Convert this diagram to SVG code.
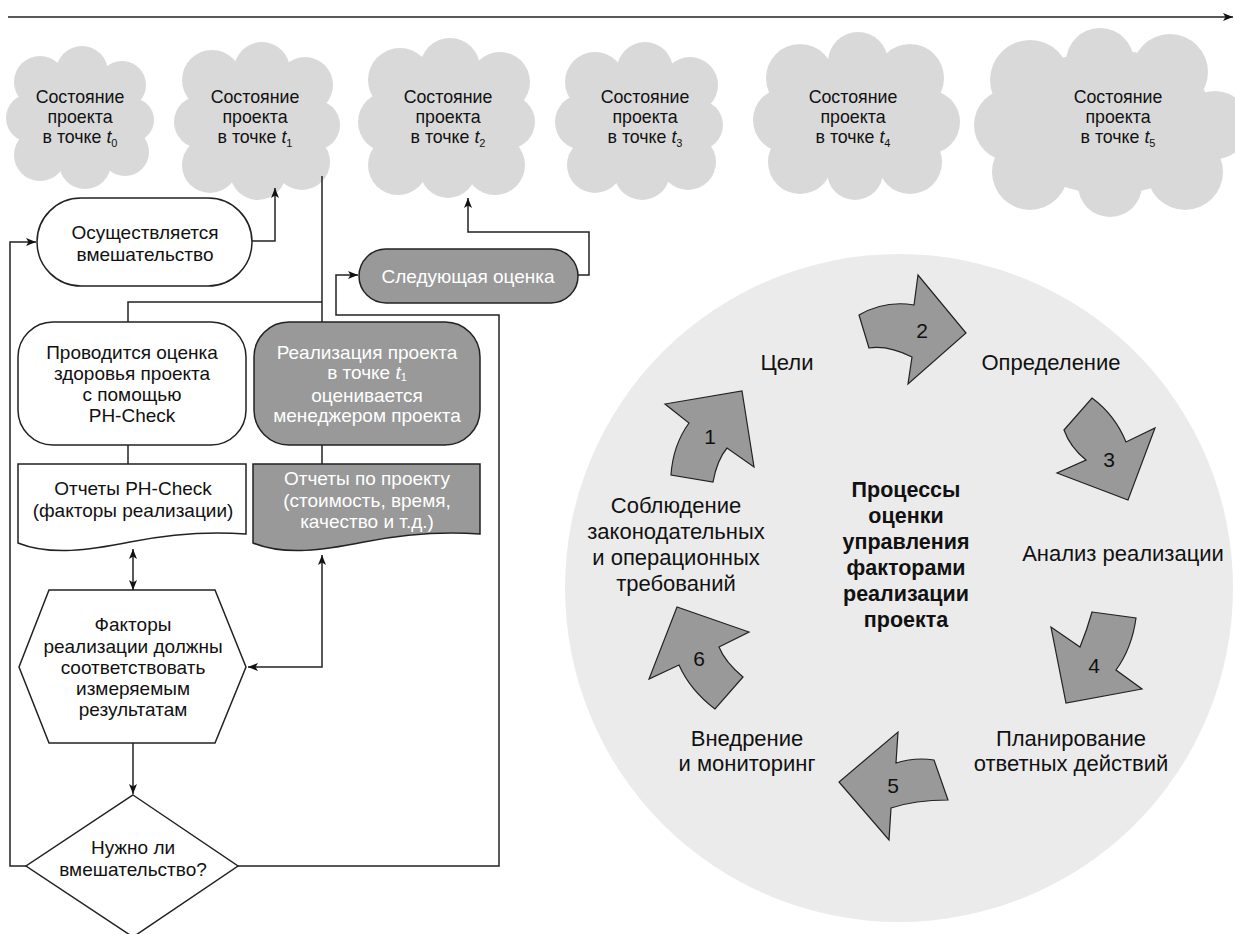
<svg xmlns="http://www.w3.org/2000/svg" width="1235" height="934" viewBox="0 0 1235 934">
  <style>
    .t { font-family: "Liberation Sans", Arial, sans-serif; font-size: 19px; fill: #111; text-anchor: middle; }
    .c { font-family: "Liberation Sans", Arial, sans-serif; font-size: 17.8px; fill: #111; text-anchor: middle; }
    .w { fill: #fff; }
    .lbl { font-family: "Liberation Sans", Arial, sans-serif; font-size: 22px; fill: #111; text-anchor: middle; }
    .num { font-family: "Liberation Sans", Arial, sans-serif; font-size: 21px; fill: #111; text-anchor: middle; }
    .bold { font-family: "Liberation Sans", Arial, sans-serif; font-size: 21.5px; font-weight: bold; fill: #111; text-anchor: middle; }
    .cloud { fill: #d9d9d9; }
    .box { fill: #fff; stroke: #222; stroke-width: 1.5; }
    .dark { fill: #999; stroke: #222; stroke-width: 1.5; }
    .conn { fill: none; stroke: #222; stroke-width: 1.5; }
    .cyc { fill: #999; stroke: #222; stroke-width: 1.2; stroke-linejoin: miter; }
  </style>
  <defs>
    <marker id="ah" viewBox="0 0 10 8" refX="10" refY="4" markerWidth="10" markerHeight="8" markerUnits="userSpaceOnUse" orient="auto-start-reverse">
      <path d="M0,0 L10,4 L0,8 L2.5,4 Z" fill="#111"/>
    </marker>
  </defs>

  <!-- time axis -->
  <g id="timeline">
    <path class="conn" d="M8,17 H1233" marker-end="url(#ah)"/>
  </g>

  <!-- project state clouds -->
  <g id="cloud-t0" class="cloud">
    <ellipse cx="80" cy="118" rx="55" ry="50"/>
    <circle cx="40" cy="82" r="26"/><circle cx="82" cy="72" r="26"/><circle cx="122" cy="85" r="24"/>
    <circle cx="30" cy="118" r="24"/><circle cx="132" cy="120" r="22"/>
    <circle cx="40" cy="155" r="26"/><circle cx="85" cy="163" r="26"/><circle cx="125" cy="152" r="24"/>
  </g>
  <g id="cloud-t1" class="cloud">
    <ellipse cx="257" cy="122" rx="62" ry="58"/>
    <circle cx="212" cy="80" r="30"/><circle cx="262" cy="70" r="28"/><circle cx="305" cy="85" r="28"/>
    <circle cx="200" cy="122" r="26"/><circle cx="315" cy="125" r="25"/>
    <circle cx="210" cy="165" r="28"/><circle cx="258" cy="172" r="28"/><circle cx="302" cy="162" r="28"/>
  </g>
  <g id="cloud-t2" class="cloud">
    <ellipse cx="447" cy="120" rx="68" ry="60"/>
    <circle cx="400" cy="80" r="32"/><circle cx="450" cy="68" r="30"/><circle cx="500" cy="82" r="30"/>
    <circle cx="388" cy="122" r="30"/><circle cx="508" cy="122" r="27"/>
    <circle cx="398" cy="165" r="30"/><circle cx="448" cy="170" r="28"/><circle cx="495" cy="165" r="30"/>
  </g>
  <g id="cloud-t3" class="cloud">
    <ellipse cx="640" cy="122" rx="62" ry="58"/>
    <circle cx="595" cy="82" r="30"/><circle cx="645" cy="70" r="28"/><circle cx="690" cy="85" r="28"/>
    <circle cx="583" cy="122" r="28"/><circle cx="698" cy="125" r="25"/>
    <circle cx="595" cy="165" r="28"/><circle cx="642" cy="172" r="28"/><circle cx="688" cy="162" r="28"/>
  </g>
  <g id="cloud-t4" class="cloud">
    <ellipse cx="855" cy="118" rx="80" ry="60"/>
    <circle cx="800" cy="78" r="34"/><circle cx="858" cy="62" r="30"/><circle cx="910" cy="78" r="34"/>
    <circle cx="785" cy="120" r="32"/><circle cx="928" cy="122" r="32"/>
    <circle cx="800" cy="162" r="32"/><circle cx="855" cy="172" r="28"/><circle cx="910" cy="162" r="32"/>
  </g>
  <g id="cloud-t5" class="cloud">
    <ellipse cx="1110" cy="122" rx="105" ry="72"/>
    <circle cx="1030" cy="80" r="40"/><circle cx="1100" cy="62" r="34"/><circle cx="1170" cy="72" r="38"/>
    <circle cx="1010" cy="125" r="36"/><circle cx="1215" cy="125" r="34"/>
    <circle cx="1030" cy="172" r="38"/><circle cx="1110" cy="185" r="32"/><circle cx="1185" cy="172" r="38"/>
  </g>
  <g id="cloud-labels">
    <text class="c" x="80" y="103">Состояние</text>
    <text class="c" x="80" y="123">проекта</text>
    <text class="c" x="80" y="143">в точке <tspan font-style="italic">t</tspan><tspan font-size="11" dy="4">0</tspan></text>
    <text class="c" x="255" y="103">Состояние</text>
    <text class="c" x="255" y="123">проекта</text>
    <text class="c" x="255" y="143">в точке <tspan font-style="italic">t</tspan><tspan font-size="11" dy="4">1</tspan></text>
    <text class="c" x="448" y="103">Состояние</text>
    <text class="c" x="448" y="123">проекта</text>
    <text class="c" x="448" y="143">в точке <tspan font-style="italic">t</tspan><tspan font-size="11" dy="4">2</tspan></text>
    <text class="c" x="645" y="103">Состояние</text>
    <text class="c" x="645" y="123">проекта</text>
    <text class="c" x="645" y="143">в точке <tspan font-style="italic">t</tspan><tspan font-size="11" dy="4">3</tspan></text>
    <text class="c" x="853" y="103">Состояние</text>
    <text class="c" x="853" y="123">проекта</text>
    <text class="c" x="853" y="143">в точке <tspan font-style="italic">t</tspan><tspan font-size="11" dy="4">4</tspan></text>
    <text class="c" x="1118" y="103">Состояние</text>
    <text class="c" x="1118" y="123">проекта</text>
    <text class="c" x="1118" y="143">в точке <tspan font-style="italic">t</tspan><tspan font-size="11" dy="4">5</tspan></text>
  </g>

  <!-- evaluation cycle background -->
  <circle id="cycle-bg" cx="899" cy="588" r="334" fill="#ebebeb"/>

  <!-- flowchart connectors -->
  <g id="connectors">
    <path class="conn" d="M322,176 V322"/>
    <path class="conn" d="M322,302 H128 V322"/>
    <path class="conn" d="M128,445 V464"/>
    <path class="conn" d="M322,445 V464"/>
    <path class="conn" d="M252,241 H275 V188" marker-end="url(#ah)"/>
    <path class="conn" d="M578,275 H589 V232 H468 V198" marker-end="url(#ah)"/>
    <path class="conn" d="M133,549 V590" marker-start="url(#ah)" marker-end="url(#ah)"/>
    <path class="conn" d="M248,667 H322 V555" marker-start="url(#ah)" marker-end="url(#ah)"/>
    <path class="conn" d="M133,743 V794" marker-end="url(#ah)"/>
    <path class="conn" d="M26,866 H10 V242 H36" marker-end="url(#ah)"/>
    <path class="conn" d="M238,866 H499 V315 H336 V275 H358" marker-end="url(#ah)"/>
  </g>

  <!-- flowchart nodes -->
  <g id="node-intervention">
    <rect class="box" x="37" y="198" width="215" height="88" rx="44"/>
    <text class="t" x="145" y="239">Осуществляется</text>
    <text class="t" x="145" y="261">вмешательство</text>
  </g>
  <g id="node-next">
    <rect class="dark" x="359" y="249" width="219" height="54" rx="27"/>
    <text class="t w" x="468" y="283">Следующая оценка</text>
  </g>
  <g id="node-phcheck">
    <rect class="box" x="18" y="322" width="228" height="123" rx="35"/>
    <text class="t" x="132" y="359">Проводится оценка</text>
    <text class="t" x="132" y="380">здоровья проекта</text>
    <text class="t" x="132" y="401">с помощью</text>
    <text class="t" x="132" y="422">PH-Check</text>
  </g>
  <g id="node-manager">
    <rect class="dark" x="254" y="322" width="226" height="123" rx="35"/>
    <text class="t w" x="367" y="359">Реализация проекта</text>
    <text class="t w" x="367" y="379">в точке <tspan font-style="italic">t</tspan><tspan font-size="11" dy="2">1</tspan></text>
    <text class="t w" x="367" y="402">оценивается</text>
    <text class="t w" x="367" y="422">менеджером проекта</text>
  </g>
  <g id="node-phreports">
    <path class="box" d="M18,464 H246 V534 C205,531 170,534 130,542 C90,550 50,556 18,543 Z"/>
    <text class="t" x="133" y="495">Отчеты PH-Check</text>
    <text class="t" x="133" y="517">(факторы реализации)</text>
  </g>
  <g id="node-projreports">
    <path class="dark" d="M253,464 H480 V534 C439,531 404,534 364,542 C324,550 285,556 253,543 Z"/>
    <text class="t w" x="367" y="485">Отчеты по проекту</text>
    <text class="t w" x="367" y="507">(стоимость, время,</text>
    <text class="t w" x="367" y="528">качество и т.д.)</text>
  </g>
  <g id="node-factors">
    <polygon class="box" points="49,590 215,590 246,667 215,743 49,743 19,667"/>
    <text class="t" x="133" y="631">Факторы</text>
    <text class="t" x="133" y="653">реализации должны</text>
    <text class="t" x="133" y="674">соответствовать</text>
    <text class="t" x="133" y="695">измеряемым</text>
    <text class="t" x="133" y="716">результатам</text>
  </g>
  <g id="node-decision">
    <polygon class="box" points="133,795 238,866 133,937 26,866"/>
    <text class="t" x="133" y="854">Нужно ли</text>
    <text class="t" x="133" y="876">вмешательство?</text>
  </g>

  <!-- evaluation cycle arrows -->
  <g id="cycle-arrows">
    <path class="cyc" d="M742,391 L754,467 L727,448 Q717,460 713,482 L671,475 Q673,445 689,423 L665,404 Z"/>
    <path class="cyc" d="M859,315 Q885,300 914,305 L918,275 L966,333 L908,384 L912,357 Q888,345 869,348 Z"/>
    <path class="cyc" d="M1092,398 Q1115,415 1126,442 L1155,428 L1128,500 L1057,473 L1086,460 Q1070,447 1064,430 Z"/>
    <path class="cyc" d="M1092,612 L1136,618 Q1132,648 1116,670 L1142,689 L1066,703 L1051,627 L1080,647 Q1087,630 1092,612 Z"/>
    <path class="cyc" d="M934,760 L948,800 Q915,800 891,808 L889,840 L839,782 L898,732 L896,763 Q915,757 934,760 Z"/>
    <path class="cyc" d="M715,709 Q690,690 679,665 L649,679 L677,607 L749,632 L719,647 Q725,662 743,677 Z"/>
    <text class="num" x="710" y="444">1</text>
    <text class="num" x="922" y="338">2</text>
    <text class="num" x="1109" y="467">3</text>
    <text class="num" x="1094" y="673">4</text>
    <text class="num" x="893" y="793">5</text>
    <text class="num" x="699" y="666">6</text>
  </g>

  <!-- cycle stage labels -->
  <g id="cycle-labels">
    <text class="lbl" x="787" y="370">Цели</text>
    <text class="lbl" x="1051" y="370">Определение</text>
    <text class="lbl" x="1123" y="561">Анализ реализации</text>
    <text class="lbl" x="1071" y="746">Планирование</text>
    <text class="lbl" x="1071" y="771">ответных действий</text>
    <text class="lbl" x="747" y="746">Внедрение</text>
    <text class="lbl" x="747" y="771">и мониторинг</text>
    <text class="lbl" x="676" y="513">Соблюдение</text>
    <text class="lbl" x="676" y="539">законодательных</text>
    <text class="lbl" x="676" y="565">и операционных</text>
    <text class="lbl" x="676" y="591">требований</text>
  </g>
  <g id="cycle-title">
    <text class="bold" x="906" y="497">Процессы</text>
    <text class="bold" x="906" y="523">оценки</text>
    <text class="bold" x="906" y="549">управления</text>
    <text class="bold" x="906" y="575">факторами</text>
    <text class="bold" x="906" y="601">реализации</text>
    <text class="bold" x="906" y="627">проекта</text>
  </g>
</svg>
